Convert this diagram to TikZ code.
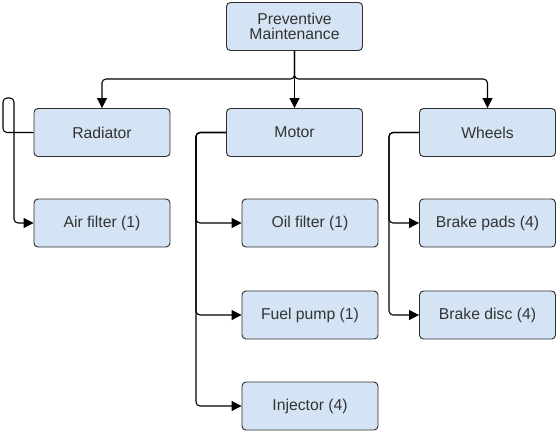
\documentclass[tikz,border=0pt]{standalone}
\usepackage{fontspec}
\setmainfont{Liberation Sans}
\usepackage{tikz}
\usetikzlibrary{arrows.meta,positioning}
\definecolor{boxfill}{HTML}{D5E4F5}
\definecolor{boxline}{HTML}{2E2E2E}
\definecolor{txt}{HTML}{333333}

\begin{document}
\begin{tikzpicture}[x=0.75pt,y=-0.75pt,
  font=\fontsize{11.8}{13.5}\selectfont,
  part/.style={draw=boxline,fill=boxfill,rounded corners=3pt,line width=0.7pt,
    minimum width=102pt,minimum height=36pt,inner sep=2pt,text=txt,align=center},
  conn/.style={draw=black,line width=0.8pt,rounded corners=3pt,-{Triangle[length=7.5pt,width=7.5pt]}}]
\useasboundingbox (0,0) rectangle (559,433);
\node[part] (root) at (294.5,26.5) {Preventive\\[-2pt]Maintenance};
\node[part] (rad) at (102,132.5) {Radiator};
\node[part] (air) at (102,223) {Air filter (1)};
\node[part] (mot) at (294.5,132.5) {Motor};
\node[part] (oil) at (310,223) {Oil filter (1)};
\node[part] (fuel) at (310,315) {Fuel pump (1)};
\node[part] (inj) at (310,406) {Injector (4)};
\node[part] (whl) at (487.5,132.5) {Wheels};
\node[part] (pads) at (487.5,223) {Brake pads (4)};
\node[part] (disc) at (487.5,315) {Brake disc (4)};
% tree from the root
\draw[conn] (root.south) -- (mot.north);
\draw[conn] (root.south) -- (294.5,79) -| (rad.north);
\draw[conn] (root.south) -- (294.5,79) -| (whl.north);
% radiator
\draw[conn] (rad.west) -- (3,132.5) -- (3,98) -- (14,98) |- (air.west);
% motor
\draw[conn] (mot.west) -- (196,132.5) |- (oil.west);
\draw[conn] (mot.west) -- (196,132.5) |- (fuel.west);
\draw[conn] (mot.west) -- (196,132.5) |- (inj.west);
% wheels
\draw[conn] (whl.west) -- (389,132.5) |- (pads.west);
\draw[conn] (whl.west) -- (389,132.5) |- (disc.west);
\end{tikzpicture}
\end{document}
